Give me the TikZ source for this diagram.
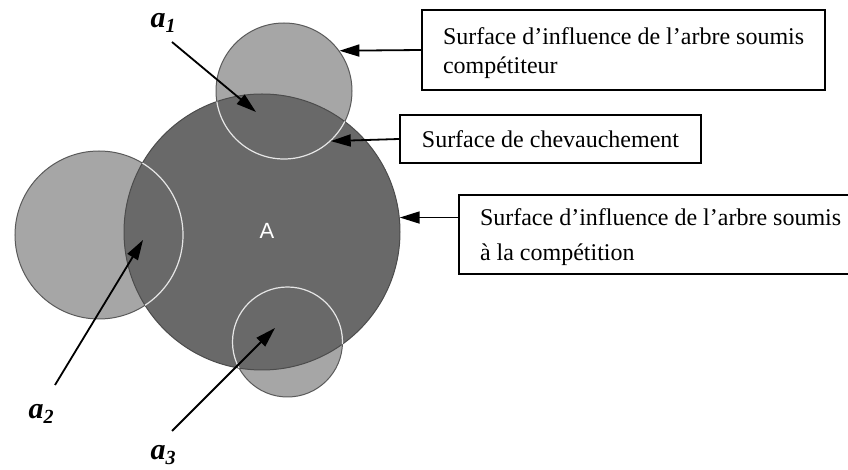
\documentclass[tikz,border=0pt]{standalone}
\usepackage{fontspec}
\setmainfont{Liberation Serif}
\newfontfamily\labelsans{Liberation Sans}
\usepackage{tikz}
\usetikzlibrary{arrows.meta,positioning}
\definecolor{crownlight}{HTML}{A6A6A6}
\definecolor{crowndark}{HTML}{696969}
\definecolor{rimgray}{HTML}{5A5A5A}
\definecolor{rimlight}{HTML}{E6E6E6}
\newcommand{\firstline}{\rule{0pt}{11.2pt}}

\begin{document}
\begin{tikzpicture}[x=0.5pt, y=-0.5pt,
  crown/.style={circle, inner sep=0pt, draw=rimgray, line width=0.5pt},
  infobox/.style={rectangle, draw=black, line width=1pt, anchor=north west, font=\fontsize{12}{14.5}\selectfont, align=left, inner xsep=10.5pt, inner ysep=0pt},
  pointer/.style={-{Triangle[length=10pt,width=6pt]}, line width=0.9pt},
  treelabel/.style={font=\fontsize{15}{17}\selectfont\bfseries\itshape, inner sep=0pt},
]
  \useasboundingbox (0,0) rectangle (848,470);
  \node[crown, fill=crownlight, minimum size=68pt] (c1) at (284,91) {};
  \node[crown, fill=crownlight, minimum size=84pt] (c2) at (99,235) {};
  \node[crown, fill=crownlight, minimum size=55pt] (c3) at (287.5,342) {};
  \node[crown, fill=crowndark, draw=rimgray!85!black, minimum size=138pt] (A) at (262,232) {};
  \begin{scope}
    \clip (A.center) circle [radius=69pt];
    \foreach \c/\r in {c1/34pt, c2/42pt, c3/27.5pt}
      \draw[rimlight, line width=0.6pt] (\c.center) circle [radius=\r];
  \end{scope}
  \node[font=\labelsans\fontsize{11}{13}\selectfont, text=white] (Alab) at (267,231) {A};

  \node[infobox, minimum width=201pt, minimum height=40pt] (b1) at (421,9) {\firstline Surface d’influence de l’arbre soumis\\compétiteur};
  \node[infobox, minimum width=150.5pt, minimum height=24pt, align=center] (b2) at (399,114) {Surface de chevauchement};
  \node[infobox, minimum width=201pt, minimum height=39.5pt, font=\fontsize{12}{17.5}\selectfont] (b3) at (458,194) {\firstline Surface d’influence de l’arbre soumis\\à la compétition};
  \draw[pointer] (b1.west) -- (c1.36);
  \draw[pointer] (b2.west) -- (c1.-47);
  \draw[pointer] (b3.west |- A.6) -- (A.6);

  \node[treelabel] (n1) at (163,23) {a\raisebox{-0.35ex}{\fontsize{10}{11}\selectfont 1}};
  \node[treelabel] (n2) at (41,414) {a\raisebox{-0.35ex}{\fontsize{10}{11}\selectfont 2}};
  \node[treelabel] (n3) at (163,455) {a\raisebox{-0.35ex}{\fontsize{10}{11}\selectfont 3}};
  \coordinate (tail1) at (172,42);
  \coordinate (tip1) at (256,112);
  \coordinate (tail2) at (55,385);
  \coordinate (tip2) at (143,240);
  \coordinate (tail3) at (172,431);
  \coordinate (tip3) at (275,328);
  \draw[pointer] (tail1) -- (tip1);
  \draw[pointer] (tail2) -- (tip2);
  \draw[pointer] (tail3) -- (tip3);
\end{tikzpicture}
\end{document}
